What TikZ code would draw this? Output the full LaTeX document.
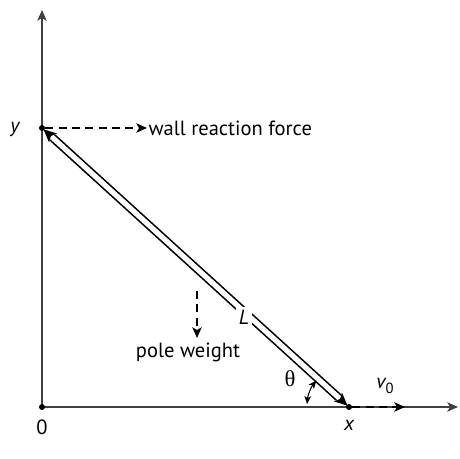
\documentclass[tikz,border=0pt]{standalone}
\usepackage{fontspec}
\setmainfont{PT Sans}
\newfontfamily\symfont{Liberation Serif}
\usetikzlibrary{arrows.meta,calc}
\begin{document}
\begin{tikzpicture}[x=0.75pt,y=-0.75pt,
  axis/.style={draw=black!75,line width=1.1pt},
  tip/.style={-{Stealth[length=8pt,width=7pt,inset=2pt]}},
  pole/.style={line width=1.1pt},
  force/.style={line width=1.1pt,dash pattern=on 6pt off 4pt,tip},
  lbl/.style={font=\fontsize{15.4}{17}\selectfont,inner sep=1pt},
  dot/.style={circle,fill=black,inner sep=0pt,minimum size=4.5pt}]
\useasboundingbox (0,0) rectangle (460,459);
\coordinate (O) at (42,407);
\coordinate (Y) at (42,128);
\coordinate (X) at (349,407);
\coordinate (ytop) at (42,10);
\coordinate (xend) at (458,407);
% axes
\draw[axis,tip] (O) -- (ytop);
\draw[axis,tip] (O) -- (xend);
% pole double line
\coordinate (p1a) at (54.7,134.8);
\coordinate (p1b) at (341.0,395.0);
\coordinate (p2a) at (50.0,140.0);
\coordinate (p2b) at (336.3,400.2);
\draw[pole] (p1a) -- (p1b);
\draw[pole] (p2a) -- (p2b);
% pole end arrowheads
\coordinate (ta) at (43.5,129.3);
\coordinate (tb1) at (57.16,133.61);
\coordinate (tb2) at (49.08,142.49);
\coordinate (ti) at (50.9,136.0);
\fill (ta) -- (tb1) -- (ti) -- (tb2) -- cycle;
\coordinate (ba) at (347.5,405.7);
\coordinate (bb1) at (341.92,392.51);
\coordinate (bb2) at (333.84,401.39);
\coordinate (bi) at (340.1,399.0);
\fill (ba) -- (bb1) -- (bi) -- (bb2) -- cycle;
\node[lbl,fill=white,font=\fontsize{15.4}{17}\selectfont\itshape,inner sep=2pt] (L) at (244,317) {L};
% dots
\node[dot] (dO) at (O) {};
\node[dot] (dY) at (Y) {};
\node[dot] (dX) at (X) {};
% labels
\node[lbl] (l0) at (42,427) {0};
\node[lbl,font=\fontsize{15.4}{17}\selectfont\itshape] (lx) at (349,425) {x};
\node[lbl,font=\fontsize{15.4}{17}\selectfont\itshape] (ly) at (15,129) {y};
% wall reaction
\coordinate (wr) at (147,128);
\draw[force] (dY) -- (wr);
\node[lbl,anchor=west] (wrl) at (wr) {wall reaction force};
% pole weight
\coordinate (pw1) at (197,291);
\coordinate (pw2) at (197,338);
\draw[force] (pw1) -- (pw2);
\node[lbl] (pwl) at (188,352) {pole weight};
% velocity
\coordinate (v1) at (405,407);
\draw[force] (dX) -- (v1);
\node[lbl] (vl) at (385,386) {\itshape v\upshape\raisebox{-0.45ex}{\fontsize{11}{12}\selectfont 0}};
% angle
\draw[line width=0.8pt,{Stealth[length=6pt,width=5pt,inset=1.5pt]}-{Stealth[length=6pt,width=5pt,inset=1.5pt]}]
  ($(X)+(184:42)$) arc[start angle=184,end angle=219,radius=42];
\node[lbl,font=\fontsize{17}{18}\selectfont\symfont] (th) at (290,379) {θ};
\end{tikzpicture}
\end{document}
